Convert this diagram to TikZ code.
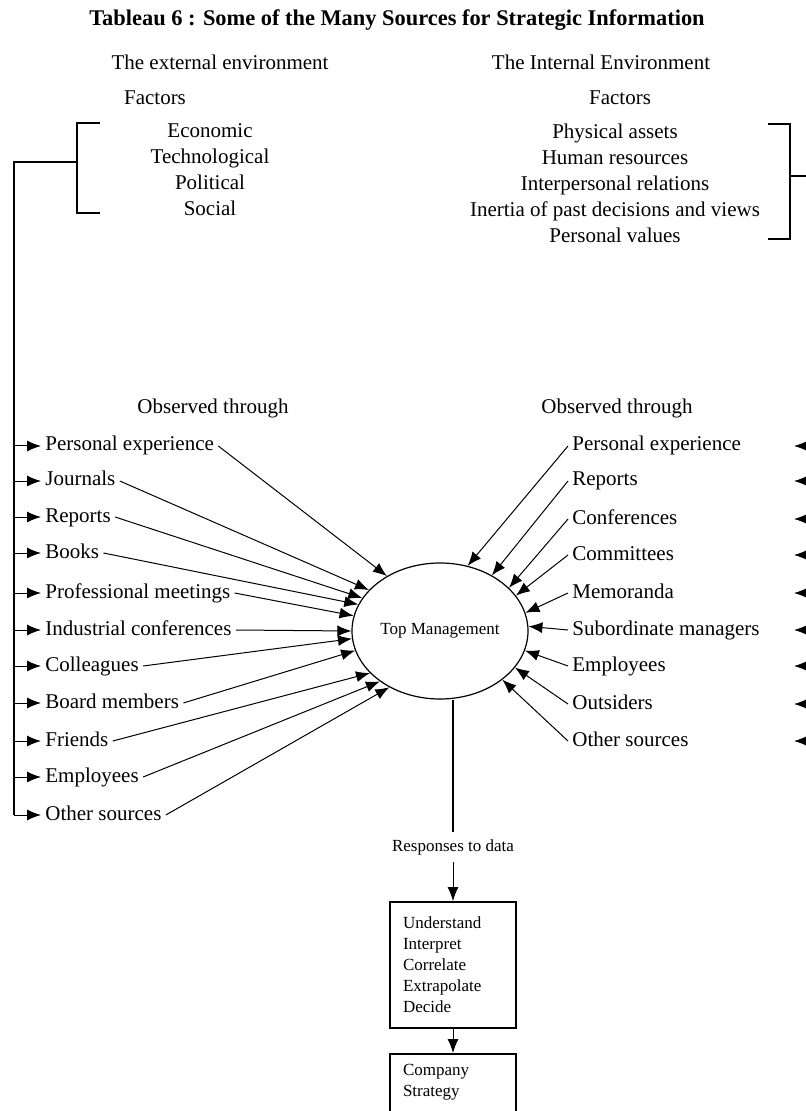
\documentclass[tikz,border=0pt]{standalone}
\usepackage{fontspec}
\setmainfont{Liberation Serif}
\usetikzlibrary{positioning,calc,shapes.geometric,arrows.meta}

\begin{document}
\begin{tikzpicture}[x=0.5pt,y=-0.5pt,
  txt/.style={font=\fontsize{10.5}{13}\selectfont,inner sep=2pt},
  src/.style={txt,anchor=west,text height=7.5pt,text depth=2.5pt},
  small/.style={font=\fontsize{8.5}{10.5}\selectfont},
  feed/.style={line width=0.5pt,-{Latex[length=7pt,width=5.5pt]}},
  brace/.style={line width=0.9pt},
  stepbox/.style={draw,line width=0.9pt,small,text width=50pt,inner xsep=6.5pt,inner ysep=5pt,align=left}]
\useasboundingbox (0,0) rectangle (806,1111);
\clip (0,0) rectangle (806,1111);
\fill[white] (0,0) rectangle (806,1111);

% headings
\node[font=\bfseries\fontsize{11.2}{13}\selectfont] (title) at (397,20) {Tableau 6 : Some of the Many Sources for Strategic Information};
\node[txt] (exthd) at (220,62) {The external environment};
\node[txt] (inthd) at (601,62) {The Internal Environment};
\node[txt] (extfac) at (155,98) {Factors};
\node[txt] (intfac) at (620,98) {Factors};
\node[txt,align=center] (extlist) at (210,170) {Economic\\Technological\\Political\\Social};
\node[txt,align=center] (intlist) at (615,183) {Physical assets\\Human resources\\Interpersonal relations\\Inertia of past decisions and views\\Personal values};

% observed through
\node[txt] (lobs) at (213,408) {Observed through};
\node[txt] (robs) at (617,408) {Observed through};

\node[src] (lpe) at (41,446) {Personal experience};
\node[src] (ljo) at (41,481) {Journals};
\node[src] (lre) at (41,517) {Reports};
\node[src] (lbo) at (41,553) {Books};
\node[src] (lpm) at (41,593) {Professional meetings};
\node[src] (lic) at (41,630) {Industrial conferences};
\node[src] (lco) at (41,666) {Colleagues};
\node[src] (lbm) at (41,703) {Board members};
\node[src] (lfr) at (41,741) {Friends};
\node[src] (lem) at (41,777) {Employees};
\node[src] (los) at (41,815) {Other sources};

\node[src] (rpe) at (568,446) {Personal experience};
\node[src] (rre) at (568,481) {Reports};
\node[src] (rcf) at (568,519) {Conferences};
\node[src] (rcm) at (568,555) {Committees};
\node[src] (rme) at (568,593) {Memoranda};
\node[src] (rsm) at (568,630) {Subordinate managers};
\node[src] (rem) at (568,666) {Employees};
\node[src] (rou) at (568,704) {Outsiders};
\node[src] (ros) at (568,741) {Other sources};

\node[ellipse,draw,line width=0.6pt,minimum width=88pt,minimum height=68pt,inner sep=0pt,small] (top) at (440,631) {Top Management};

% brackets and feeder lines
\coordinate (lbus) at (14,162);
\draw[brace] (100,123) -| (77,213) -- (100,213);
\draw[brace] (77,162) -- (lbus) -- (lbus |- los.west);
\coordinate (rbus) at (812,176);
\coordinate (rtip) at (794,176);
\draw[brace] (768,124) -| (790,239) -- (768,239);
\draw[brace] (790,176) -- (rbus) -- (rbus |- ros.west);

\foreach \n/\a in {lpe/134,ljo/150,lre/157,lbo/162,lpm/170,lic/180,lco/185,lbm/193,lfr/211,lem/220,los/228} {
  \draw[feed] (\n.west -| lbus) -- (\n.west);
  \draw[feed] (\n.east) -- (top.\a);
}
\foreach \n/\a in {rpe/67,rre/47,rcf/32,rcm/25,rme/12,rsm/3,rem/347,rou/334,ros/322} {
  \draw[feed] (\n.west) -- (top.\a);
  \draw[feed] (\n.west -| rbus) -- (\n.west -| rtip);
}

% responses
\node[small] (resp) at (453,847) {Responses to data};
\draw[line width=0.6pt] (top.south -| resp) -- (resp.north);
\node[stepbox,minimum height=63pt] (steps) at (453,965) {Understand\\Interpret\\Correlate\\Extrapolate\\Decide};
\draw[feed] (resp) -- (steps);
\node[stepbox,anchor=north] (strat) at (453,1053) {\parbox[t][60pt][t]{50pt}{Company\\Strategy}};
\draw[feed] (steps) -- (strat);
\end{tikzpicture}
\end{document}
